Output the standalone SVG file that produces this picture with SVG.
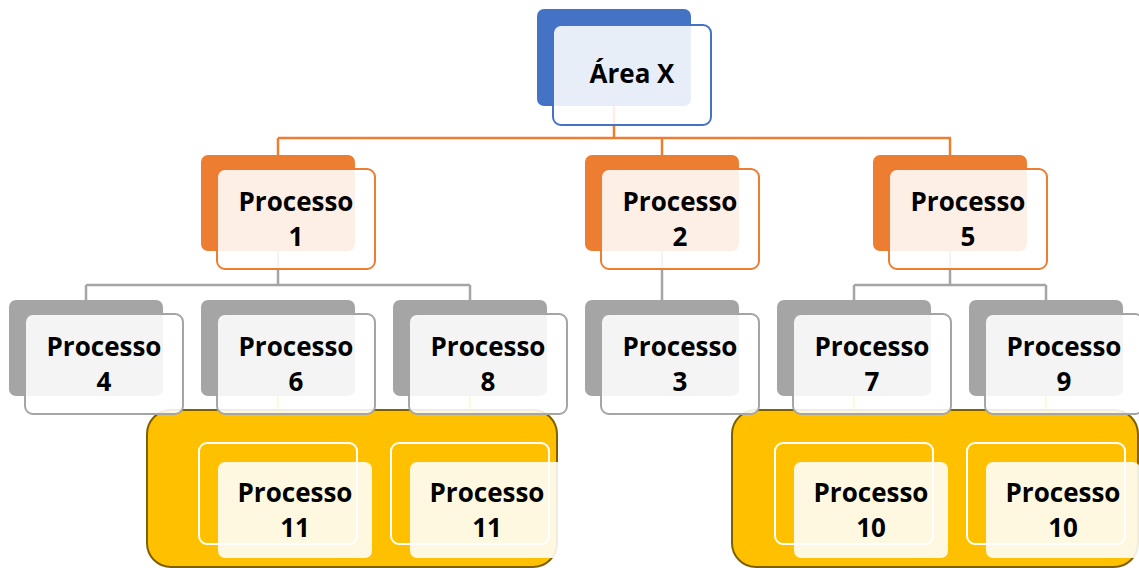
<svg xmlns="http://www.w3.org/2000/svg" width="1139" height="568" viewBox="0 0 1139 568">
<style>
.bg{fill:#fff}
.cn{fill:none;stroke-width:2.5}
.co{stroke:#ED7D31}
.cg{stroke:#A5A5A5}
.cy{stroke:#FFC000;stroke-width:2}
.bk{stroke:none}
.fr{fill:#fff;fill-opacity:.88;stroke-width:2}
.blue .bk{fill:#4472C4}.blue .fr{stroke:#4472C4}
.or .bk{fill:#ED7D31}.or .fr{stroke:#ED7D31}
.gr .bk{fill:#A5A5A5}.gr .fr{stroke:#A5A5A5}
.cont{fill:#FFC000;stroke:#7F6000;stroke-width:2}
.ow{fill:none;stroke:#fff;stroke-width:2}
.lf{fill:#fff;fill-opacity:.88}
.t{font-family:"Open Sans","Liberation Sans",sans-serif;font-weight:700;font-size:26px;text-anchor:middle;fill:#000}
</style>
<rect class="bg" x="0" y="0" width="1139" height="568"/>
<g id="connectors">
  <path class="cn co" d="M614 106V138M278 138H951M278 138V155M662 138V155M950 138V155"/>
  <path class="cn cg" d="M278 251V285M86 285H470M86 285V300M470 285V300M662 251V300M950 251V285M854 285H1046M854 285V300M1046 285V300"/>
  <path class="cn cy" d="M278 396V412M470 396V412M854 396V412M1046 396V412"/>
</g>
<g id="group-left">
  <rect class="cont" x="147" y="410" width="410" height="157" rx="24"/>
</g>
<g id="group-right">
  <rect class="cont" x="732" y="410" width="406" height="157" rx="24"/>
</g>
<g id="area-x" class="blue">
  <rect class="bk" x="537" y="9" width="154" height="97" rx="7"/>
  <rect class="fr" x="553" y="25" width="158" height="100" rx="8"/>
  <text class="t" x="632" y="83">Área X</text>
</g>
<g id="p1" class="or">
  <rect class="bk" x="201" y="155" width="154" height="96" rx="7"/>
  <rect class="fr" x="217" y="169" width="158" height="100" rx="8"/>
  <text class="t" x="296" y="211">Processo</text><text class="t" x="296" y="246">1</text>
</g>
<g id="p2" class="or">
  <rect class="bk" x="585" y="155" width="154" height="96" rx="7"/>
  <rect class="fr" x="601" y="169" width="158" height="100" rx="8"/>
  <text class="t" x="680" y="211">Processo</text><text class="t" x="680" y="246">2</text>
</g>
<g id="p5" class="or">
  <rect class="bk" x="873" y="155" width="154" height="96" rx="7"/>
  <rect class="fr" x="889" y="169" width="158" height="100" rx="8"/>
  <text class="t" x="968" y="211">Processo</text><text class="t" x="968" y="246">5</text>
</g>
<g id="p4" class="gr">
  <rect class="bk" x="9" y="300" width="154" height="96" rx="7"/>
  <rect class="fr" x="25" y="314" width="158" height="100" rx="8"/>
  <text class="t" x="104" y="356">Processo</text><text class="t" x="104" y="391">4</text>
</g>
<g id="p6" class="gr">
  <rect class="bk" x="201" y="300" width="154" height="96" rx="7"/>
  <rect class="fr" x="217" y="314" width="158" height="100" rx="8"/>
  <text class="t" x="296" y="356">Processo</text><text class="t" x="296" y="391">6</text>
</g>
<g id="p8" class="gr">
  <rect class="bk" x="393" y="300" width="154" height="96" rx="7"/>
  <rect class="fr" x="409" y="314" width="158" height="100" rx="8"/>
  <text class="t" x="488" y="356">Processo</text><text class="t" x="488" y="391">8</text>
</g>
<g id="p3" class="gr">
  <rect class="bk" x="585" y="300" width="154" height="96" rx="7"/>
  <rect class="fr" x="601" y="314" width="158" height="100" rx="8"/>
  <text class="t" x="680" y="356">Processo</text><text class="t" x="680" y="391">3</text>
</g>
<g id="p7" class="gr">
  <rect class="bk" x="777" y="300" width="154" height="96" rx="7"/>
  <rect class="fr" x="793" y="314" width="158" height="100" rx="8"/>
  <text class="t" x="872" y="356">Processo</text><text class="t" x="872" y="391">7</text>
</g>
<g id="p9" class="gr">
  <rect class="bk" x="969" y="300" width="154" height="96" rx="7"/>
  <rect class="fr" x="985" y="314" width="158" height="100" rx="8"/>
  <text class="t" x="1064" y="356">Processo</text><text class="t" x="1064" y="391">9</text>
</g>
<g id="p11a">
  <rect class="ow" x="199" y="443" width="158" height="101" rx="8"/>
  <rect class="lf" x="218" y="462" width="154" height="96" rx="7"/>
  <text class="t" x="295" y="502">Processo</text><text class="t" x="295" y="537">11</text>
</g>
<g id="p11b">
  <rect class="ow" x="391" y="443" width="158" height="101" rx="8"/>
  <rect class="lf" x="410" y="462" width="154" height="96" rx="7"/>
  <text class="t" x="487" y="502">Processo</text><text class="t" x="487" y="537">11</text>
</g>
<g id="p10a">
  <rect class="ow" x="775" y="443" width="158" height="101" rx="8"/>
  <rect class="lf" x="794" y="462" width="154" height="96" rx="7"/>
  <text class="t" x="871" y="502">Processo</text><text class="t" x="871" y="537">10</text>
</g>
<g id="p10b">
  <rect class="ow" x="967" y="443" width="158" height="101" rx="8"/>
  <rect class="lf" x="986" y="462" width="154" height="96" rx="7"/>
  <text class="t" x="1063" y="502">Processo</text><text class="t" x="1063" y="537">10</text>
</g>
</svg>
